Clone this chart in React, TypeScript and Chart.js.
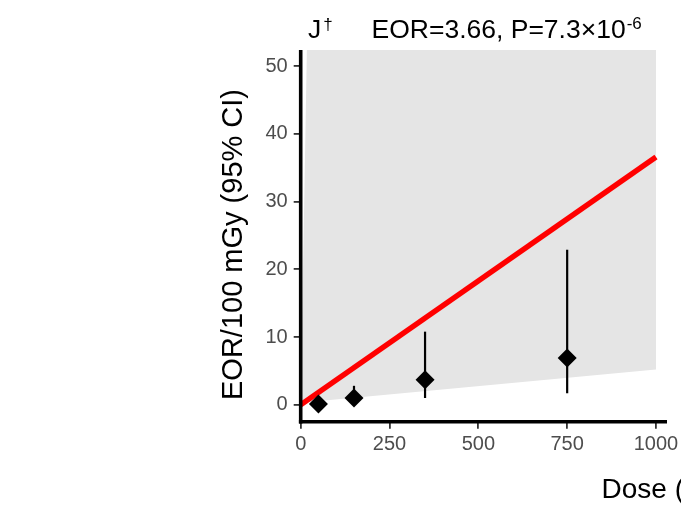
import React, { useEffect, useRef } from 'react';
import { Chart, registerables } from 'chart.js';

Chart.register(...registerables);

// Category-level excess odds ratio estimates with 95% CI
const doses = [50, 150, 350, 750];
const eorValues = [0.1, 1.0, 3.7, 6.9];
const ciLower = [-0.2, 0.1, 1.0, 1.7];
const ciUpper = [0.4, 2.8, 10.8, 22.9];

// Linear fit (EOR per 100 mGy = 3.66) and its confidence band
const fitDoses = [0, 1000];
const fitEor = [0, 36.6];
const bandLower = [0.3, 5.2];
const bandUpper = [0.3, 3000];

const xTicks = [0, 250, 500, 750, 1000];
const yTicks = [0, 10, 20, 30, 40, 50];

const panelLabel = 'J';
const panelMark = '†';
const titleMain = 'EOR=3.66, P=7.3×10';
const titleExp = '-6';
const yTitle = 'EOR/100 mGy (95% CI)';
const xTitle = 'Dose (mGy)';

const FONT = '"Liberation Sans", Arial, Helvetica, sans-serif';

const decor = {
  id: 'decor',
  afterDatasetsDraw(chart: any) {
    const { ctx, scales } = chart;
    const xs = scales.x;
    const ys = scales.y;
    ctx.save();
    ctx.strokeStyle = '#000';
    ctx.lineWidth = 2.2;
    doses.forEach((d, i) => {
      const px = xs.getPixelForValue(d);
      ctx.beginPath();
      ctx.moveTo(px, ys.getPixelForValue(ciLower[i]));
      ctx.lineTo(px, ys.getPixelForValue(ciUpper[i]));
      ctx.stroke();
    });
    ctx.restore();
  },
  afterDraw(chart: any) {
    const { ctx, chartArea } = chart;
    const { left, right, top, bottom } = chartArea;
    ctx.save();
    // axis lines
    ctx.strokeStyle = '#000';
    ctx.lineWidth = 3.6;
    ctx.beginPath();
    ctx.moveTo(left, top);
    ctx.lineTo(left, bottom + 1.8);
    ctx.stroke();
    ctx.beginPath();
    ctx.moveTo(left - 1.8, bottom);
    ctx.lineTo(right, bottom);
    ctx.stroke();

    // y axis title
    ctx.fillStyle = '#000';
    ctx.font = `29px ${FONT}`;
    ctx.textAlign = 'center';
    ctx.textBaseline = 'alphabetic';
    ctx.save();
    ctx.translate(241.5, 244.5);
    ctx.rotate(-Math.PI / 2);
    ctx.fillText(yTitle, 0, 0);
    ctx.restore();

    // x axis title
    ctx.textAlign = 'left';
    ctx.font = `28px ${FONT}`;
    ctx.fillText(xTitle, 601.5, 498);

    // panel title
    ctx.font = `26.5px ${FONT}`;
    ctx.fillText(panelLabel, 308, 38);
    const jw = ctx.measureText(panelLabel).width;
    ctx.font = `17px ${FONT}`;
    ctx.fillText(panelMark, 308 + jw + 2, 30);
    ctx.font = `26.5px ${FONT}`;
    ctx.fillText(titleMain, 371.5, 38);
    const tw = ctx.measureText(titleMain).width;
    ctx.font = `17px ${FONT}`;
    ctx.fillText(titleExp, 371.5 + tw + 1, 29);
    ctx.restore();
  },
};

export default function App() {
  const canvasRef = useRef<HTMLCanvasElement | null>(null);

  useEffect(() => {
    const canvas = canvasRef.current;
    if (!canvas) return;
    const tickFont = { family: FONT, size: 20 };
    const chart = new Chart(canvas, {
      type: 'line',
      data: {
        datasets: [
          {
            data: fitDoses.map((d, i) => ({ x: d, y: bandLower[i] })),
            borderWidth: 0,
            pointRadius: 0,
            fill: false,
            order: 3,
          },
          {
            data: fitDoses.map((d, i) => ({ x: d, y: bandUpper[i] })),
            borderWidth: 0,
            pointRadius: 0,
            fill: { target: 0 },
            backgroundColor: '#E5E5E5',
            order: 2,
          },
          {
            data: fitDoses.map((d, i) => ({ x: d, y: fitEor[i] })),
            borderColor: '#FF0000',
            borderWidth: 5.5,
            borderCapStyle: 'butt',
            pointRadius: 0,
            fill: false,
            order: 1,
          },
          {
            data: doses.map((d, i) => ({ x: d, y: eorValues[i] })),
            showLine: false,
            pointStyle: 'rectRot',
            pointRadius: 9.5,
            pointBackgroundColor: '#000',
            pointBorderColor: '#000',
            pointBorderWidth: 0,
            order: 0,
          },
        ] as any,
      },
      options: {
        animation: false,
        responsive: false,
        devicePixelRatio: 1,
        layout: { padding: { left: 0, top: 50, right: 14, bottom: 0 } },
        plugins: {
          legend: { display: false },
          tooltip: { enabled: false },
        },
        scales: {
          x: {
            type: 'linear',
            min: 0,
            max: 1031,
            afterBuildTicks: (axis: any) => {
              axis.ticks = xTicks.map((v) => ({ value: v }));
            },
            afterFit: (axis: any) => {
              axis.height = 84.3;
              axis.paddingLeft = 0;
              axis.paddingRight = 0;
            },
            border: { display: false },
            grid: {
              drawOnChartArea: false,
              drawTicks: true,
              tickLength: 7,
              tickColor: '#333333',
              lineWidth: 1.8,
            },
            ticks: {
              color: '#4D4D4D',
              font: tickFont,
              padding: 4,
              maxRotation: 0,
              autoSkip: false,
              callback: (v: any) => String(v),
            },
          },
          y: {
            type: 'linear',
            min: -2.5,
            max: 52.4,
            afterBuildTicks: (axis: any) => {
              axis.ticks = yTicks.map((v) => ({ value: v }));
            },
            afterFit: (axis: any) => {
              axis.width = 300.7;
              axis.paddingTop = 0;
              axis.paddingBottom = 0;
            },
            border: { display: false },
            grid: {
              drawOnChartArea: false,
              drawTicks: true,
              tickLength: 7,
              tickColor: '#333333',
              lineWidth: 1.8,
            },
            ticks: {
              color: '#4D4D4D',
              font: tickFont,
              padding: 6,
              autoSkip: false,
              callback: (v: any) => String(v),
            },
          },
        },
      },
      plugins: [decor],
    } as any);
    return () => chart.destroy();
  }, []);

  return (
    <div style={{ position: 'absolute', left: 0, top: 0, width: 681, height: 506, background: '#fff' }}>
      <canvas ref={canvasRef} width={681} height={506} style={{ display: 'block' }} />
    </div>
  );
}
